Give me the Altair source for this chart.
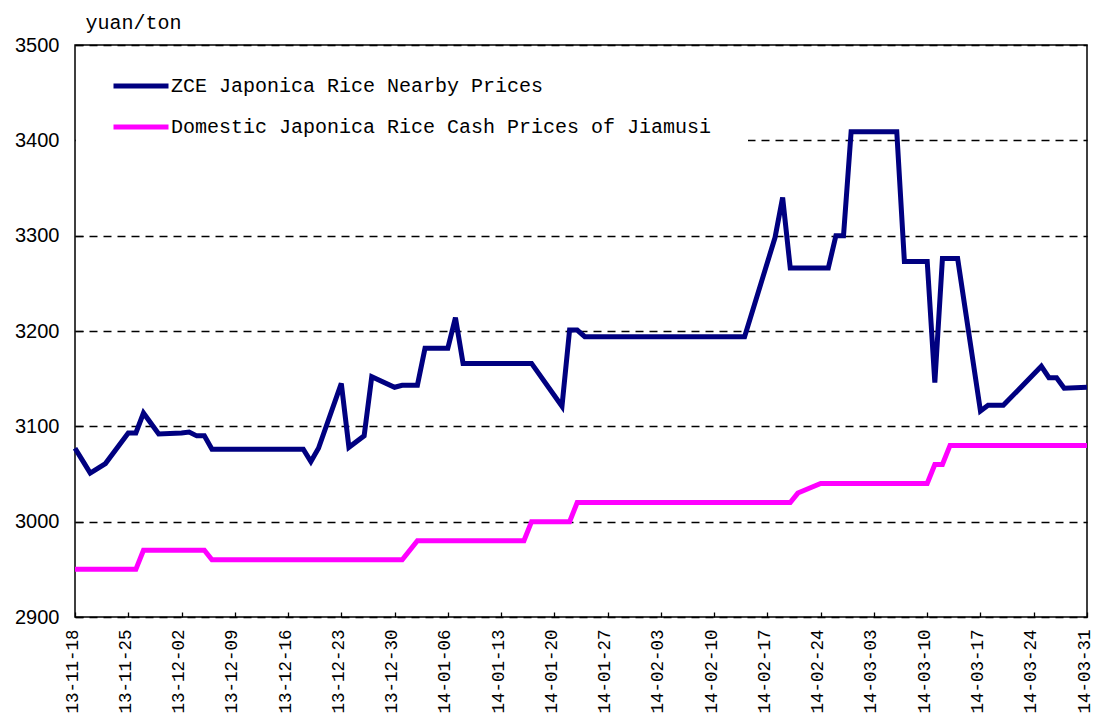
import altair as alt
import pandas as pd

# ---- data ----
zce_dates = [
    "2013-11-18", "2013-11-19", "2013-11-20", "2013-11-21", "2013-11-22",
    "2013-11-25", "2013-11-26", "2013-11-27", "2013-11-28", "2013-11-29",
    "2013-12-02", "2013-12-03", "2013-12-04", "2013-12-05", "2013-12-06",
    "2013-12-18", "2013-12-19", "2013-12-20", "2013-12-23", "2013-12-24",
    "2013-12-26", "2013-12-27", "2013-12-30", "2013-12-31", "2014-01-02",
    "2014-01-03", "2014-01-06", "2014-01-07", "2014-01-08", "2014-01-17",
    "2014-01-21", "2014-01-22", "2014-01-23", "2014-01-24", "2014-02-14",
    "2014-02-18", "2014-02-19", "2014-02-20", "2014-02-25", "2014-02-26",
    "2014-02-27", "2014-02-28", "2014-03-06", "2014-03-07", "2014-03-10",
    "2014-03-11", "2014-03-12", "2014-03-14", "2014-03-17", "2014-03-18",
    "2014-03-20", "2014-03-25", "2014-03-26", "2014-03-27", "2014-03-28",
    "2014-03-31",
]
zce_values = [
    3077, 3064, 3051, 3056, 3061,
    3093, 3093, 3114, 3103, 3092,
    3093, 3094, 3090, 3090, 3076,
    3076, 3063, 3077, 3145, 3078,
    3090, 3152, 3141, 3143, 3143,
    3182, 3182, 3214, 3166, 3166,
    3121, 3201, 3201, 3194, 3194,
    3298, 3340, 3266, 3266, 3300,
    3300, 3409, 3409, 3273, 3273,
    3146, 3276, 3276, 3116, 3122,
    3122, 3163, 3151, 3151, 3140,
    3141,
]

cash_dates = [
    "2013-11-18", "2013-11-26", "2013-11-27", "2013-12-05", "2013-12-06",
    "2013-12-31", "2014-01-02", "2014-01-16", "2014-01-17", "2014-01-22",
    "2014-01-23", "2014-02-20", "2014-02-21", "2014-02-24", "2014-03-10",
    "2014-03-11", "2014-03-12", "2014-03-13", "2014-03-31",
]
cash_values = [
    2950, 2950, 2970, 2970, 2960,
    2960, 2980, 2980, 3000, 3000,
    3020, 3020, 3030, 3040, 3040,
    3060, 3060, 3080, 3080,
]

series_names = [
    "ZCE Japonica Rice Nearby Prices",
    "Domestic Japonica Rice Cash Prices of Jiamusi",
]
series_colors = ["#000080", "#FF00FF"]

tick_dates = [
    (2013, 11, 18), (2013, 11, 25), (2013, 12, 2), (2013, 12, 9),
    (2013, 12, 16), (2013, 12, 23), (2013, 12, 30), (2014, 1, 6),
    (2014, 1, 13), (2014, 1, 20), (2014, 1, 27), (2014, 2, 3),
    (2014, 2, 10), (2014, 2, 17), (2014, 2, 24), (2014, 3, 3),
    (2014, 3, 10), (2014, 3, 17), (2014, 3, 24), (2014, 3, 31),
]
y_ticks = [2900, 3000, 3100, 3200, 3300, 3400, 3500]
y_domain = [2900, 3500]
y_unit = "yuan/ton"

# ---- table ----
df = pd.concat([
    pd.DataFrame({"date": zce_dates, "price": zce_values, "series": series_names[0], "order": range(len(zce_dates))}),
    pd.DataFrame({"date": cash_dates, "price": cash_values, "series": series_names[1], "order": range(len(cash_dates))}),
], ignore_index=True)

def dt(t):
    return alt.DateTime(year=t[0], month=t[1], date=t[2], utc=True)

ticks = [dt(t) for t in tick_dates]
W, H = 1012, 572
MONO = "Liberation Mono"
SANS = "Liberation Sans"
PAD = "\u2800\u2800"  # blank spacer so the legend's white box reaches past the label

x_scale = alt.Scale(type="utc", domain=[dt(tick_dates[0]), dt(tick_dates[-1])])
y_scale = alt.Scale(domain=y_domain, zero=False, nice=False)

lines = alt.Chart(df).mark_line(strokeWidth=5).encode(
    x=alt.X("date:T", scale=x_scale, axis=alt.Axis(
        orient="bottom", values=ticks,
        labelExpr="utcFormat(datum.value, '%y-%m-%d')",
        labelAngle=270, labelFont=MONO, labelFontSize=17.5, labelColor="black",
        labelPadding=12, labelOffset=-3, labelFlush=False, labelOverlap=False,
        labelBound=False, ticks=False, domain=False, grid=False, title=None)),
    y=alt.Y("price:Q", scale=y_scale, axis=alt.Axis(
        orient="left", values=y_ticks, format="d", labelFont=SANS, labelFontSize=20,
        labelColor="black", labelPadding=16, ticks=False, domain=False,
        grid=True, gridColor="black", gridDash=[8, 6], gridWidth=1.5, gridOpacity=1,
        title=y_unit, titleAngle=0, titleFont=MONO, titleFontSize=20,
        titleFontWeight="normal", titleColor="black", titleAlign="left",
        titleBaseline="alphabetic", titleX=10, titleY=-17)),
    color=alt.Color("series:N", scale=alt.Scale(domain=series_names, range=series_colors),
        legend=alt.Legend(
            orient="none", legendX=1, legendY=5, title=None,
            symbolType="stroke", symbolSize=3025, symbolStrokeWidth=5,
            symbolOffset=29,
            labelFont=MONO, labelFontSize=20, labelColor="black", labelLimit=0,
            labelExpr="datum.label + '" + PAD + "'",
            labelOffset=0, fillColor="white", padding=6, rowPadding=1)),
    order="order:Q",
)

inner_ticks = alt.Chart(df).mark_point(opacity=0, size=1).encode(
    x=alt.X("date:T", scale=x_scale, axis=alt.Axis(
        orient="top", offset=-H, values=ticks, labels=False, domain=False,
        grid=False, ticks=True, tickSize=5, tickColor="black", tickWidth=1.3, title=None)),
    y=alt.Y("price:Q", scale=y_scale, axis=alt.Axis(
        orient="right", offset=-W, values=y_ticks, labels=False, domain=False,
        grid=False, ticks=True, tickSize=8, tickColor="black", tickWidth=1.3, title=None)),
)

chart = alt.layer(lines, inner_ticks).resolve_axis(
    x="independent", y="independent"
).properties(
    width=W, height=H,
    autosize=alt.AutoSizeParams(type="none"),
    padding={"left": 67, "top": 37, "right": 7, "bottom": 96},
).configure_view(stroke="black", strokeWidth=1.5)

chart.save("out.html", embed_options={"renderer": "svg", "actions": False})
